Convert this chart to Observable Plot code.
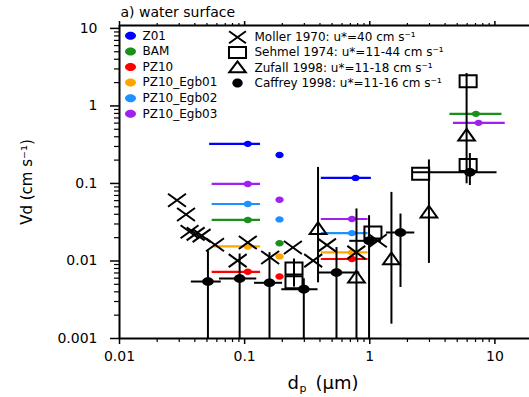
<!DOCTYPE html>
<html>
<head>
<meta charset="utf-8">
<script src="https://cdn.jsdelivr.net/npm/d3@7"></script>
<script src="https://cdn.jsdelivr.net/npm/@observablehq/plot@0.6"></script>
<style>
  html, body { margin: 0; padding: 0; background: #fff; }
  svg { display: block; }
</style>
</head>
<body>
<div id="chart"></div>
<script>
// ---------- axes ----------
const xDomain = [0.01, 18.9];
const yDomain = [0.001, 10.9];
const xMajor = [0.01, 0.1, 1, 10];
const xMajorLabels = ["0.01", "0.1", "1", "10"];
const yMajor = [0.001, 0.01, 0.1, 1, 10];
const yMajorLabels = ["0.001", "0.01", "0.1", "1", "10"];
const minorMult = [2, 3, 4, 5, 6, 7, 8, 9];

// ---------- model results (coloured) ----------
const modelNames  = ["Z01", "BAM", "PZ10", "PZ10_Egb01", "PZ10_Egb02", "PZ10_Egb03"];
const modelColors = ["#0000ff", "#1a8f1a", "#ff0000", "#ffa500", "#1e90ff", "#a020f0"];

const modelRun  = ["Z01","Z01","Z01",
                   "BAM","BAM","BAM",
                   "PZ10","PZ10","PZ10",
                   "PZ10_Egb01","PZ10_Egb01","PZ10_Egb01",
                   "PZ10_Egb02","PZ10_Egb02","PZ10_Egb02",
                   "PZ10_Egb03","PZ10_Egb03","PZ10_Egb03","PZ10_Egb03"];
const modelDp   = [0.106, 0.19, 0.77,  0.106, 0.19, 7.05,  0.106, 0.19, 0.72,  0.106, 0.19, 0.72,  0.106, 0.19, 0.72,  0.106, 0.19, 0.72, 7.4];
const modelDpLo = [0.0525, null, 0.41, 0.055, null, 4.37,  0.055, null, 0.41,  0.057, null, 0.41,  0.055, null, 0.41,  0.055, null, 0.41, 4.66];
const modelDpHi = [0.134, null, 1.03,  0.134, null, 11.4,  0.134, null, 0.97,  0.134, null, 0.97,  0.134, null, 0.97,  0.134, null, 0.97, 12.1];
const modelVd   = [0.324, 0.233, 0.118, 0.0338, 0.0169, 0.79, 0.00725, 0.0063, 0.0106, 0.0154, 0.01145, 0.0129, 0.0543, 0.0344, 0.0229, 0.0986, 0.0617, 0.0348, 0.605];

// ---------- observations (black) ----------
const obsNames = ["Moller 1970: u*=40 cm s\u207B\u00B9",
                  "Sehmel 1974: u*=11-44 cm s\u207B\u00B9",
                  "Zufall 1998: u*=11-18 cm s\u207B\u00B9",
                  "Caffrey 1998: u*=11-16 cm s\u207B\u00B9"];

const mollerDp = [0.0288, 0.034, 0.0363, 0.0406, 0.0453, 0.058, 0.106, 0.088, 0.16, 0.243, 0.353, 0.455, 0.78, 1.16];
const mollerVd = [0.0608, 0.0397, 0.0238, 0.0224, 0.0212, 0.0162, 0.0173, 0.0101, 0.0111, 0.0149, 0.0101, 0.016, 0.0129, 0.0182];

const sehmelDp = [0.248, 0.248, 1.06, 2.55, 6.11, 6.11];
const sehmelVd = [0.008, 0.0053, 0.0233, 0.133, 0.173, 2.08];
const sehmelLo = [0.0046, null, null, null, null, null];
const sehmelHi = [0.0106, null, null, null, null, null];

const zufallDp = [0.386, 0.783, 1.49, 2.97, 5.94];
const zufallVd = [0.0251, 0.00593, 0.0102, 0.0409, 0.401];
const zufallLo = [0.00523, 0.001, 0.00153, 0.0093, 0.099];
const zufallHi = [0.161, 0.0469, 0.0767, 0.201, 2.62];

const caffreyDp   = [0.0509, 0.0912, 0.158, 0.297, 0.542, 0.987, 1.76, 6.31];
const caffreyVd   = [0.00543, 0.00594, 0.00523, 0.00433, 0.00711, 0.0182, 0.0233, 0.139];
const caffreyDpLo = [0.0375, 0.063, 0.12, 0.198, 0.386, 0.692, 1.36, 2.2];
const caffreyDpHi = [0.0651, 0.125, 0.201, 0.386, 0.832, 1.24, 2.29, 10.4];
const caffreyLo   = [0.001, 0.001, 0.001, 0.001, 0.001, 0.001, 0.00455, 0.094];
const caffreyHi   = [0.0135, 0.0123, 0.0128, 0.0059, 0.0149, 0.0384, 0.0403, 0.243];

// ---------- build tables ----------
const models = modelRun.map((run, i) => ({run, dp: modelDp[i], lo: modelDpLo[i], hi: modelDpHi[i], vd: modelVd[i]}));
const moller = mollerDp.map((dp, i) => ({dp, vd: mollerVd[i]}));
const sehmel = sehmelDp.map((dp, i) => ({dp, vd: sehmelVd[i], lo: sehmelLo[i], hi: sehmelHi[i]}));
const zufall = zufallDp.map((dp, i) => ({dp, vd: zufallVd[i], lo: zufallLo[i], hi: zufallHi[i]}));
const caffrey = caffreyDp.map((dp, i) => ({dp, vd: caffreyVd[i], xlo: caffreyDpLo[i], xhi: caffreyDpHi[i], lo: caffreyLo[i], hi: caffreyHi[i]}));

const xMinor = [0.01, 0.1, 1, 10].flatMap(d => minorMult.map(m => d * m)).filter(v => v < xDomain[1]);
const yMinor = [0.001, 0.01, 0.1, 1].flatMap(d => minorMult.map(m => d * m));

// ---------- custom (horizontally stretched) symbols ----------
function ellipseSym(k) {
  return {draw(ctx, size) {
    const ry = Math.sqrt(size / Math.PI), rx = k * ry, c = 0.5523;
    ctx.moveTo(rx, 0);
    ctx.bezierCurveTo(rx, c * ry, c * rx, ry, 0, ry);
    ctx.bezierCurveTo(-c * rx, ry, -rx, c * ry, -rx, 0);
    ctx.bezierCurveTo(-rx, -c * ry, -c * rx, -ry, 0, -ry);
    ctx.bezierCurveTo(c * rx, -ry, rx, -c * ry, rx, 0);
    ctx.closePath();
  }};
}
function crossSym(k) {
  return {draw(ctx, size) {
    const r = Math.sqrt(size / Math.PI), w = k * r;
    ctx.moveTo(-w, -r); ctx.lineTo(w, r);
    ctx.moveTo(-w, r); ctx.lineTo(w, -r);
  }};
}
function squareSym(k) {
  return {draw(ctx, size) {
    const r = Math.sqrt(size / Math.PI), w = k * r;
    ctx.moveTo(-w, -r); ctx.lineTo(w, -r); ctx.lineTo(w, r); ctx.lineTo(-w, r); ctx.closePath();
  }};
}
function triSym(k) {
  return {draw(ctx, size) {
    const r = Math.sqrt(size / Math.PI), w = k * r;
    ctx.moveTo(0, -4 * r / 3); ctx.lineTo(w, 2 * r / 3); ctx.lineTo(-w, 2 * r / 3); ctx.closePath();
  }};
}

const FONT = "DejaVu Sans";

// ---------- legend marks ----------
const legendMarks = [];
modelNames.forEach((name, i) => {
  const dy = 10.3 + i * 15.6;
  legendMarks.push(Plot.dot([name], {frameAnchor: "top-left", dx: 11, dy, r: 4, symbol: ellipseSym(1.37), fill: modelColors[i], stroke: "none"}));
  legendMarks.push(Plot.text([name], {frameAnchor: "top-left", dx: 23, dy, text: d => d, textAnchor: "start", lineAnchor: "middle", fontSize: 12, fill: "black"}));
});
const obsSymbols = [
  {symbol: crossSym(1.4), r: 6, fill: "none", stroke: "black"},
  {symbol: squareSym(1.55), r: 5.5, fill: "none", stroke: "black"},
  {symbol: triSym(1.5), r: 5.5, fill: "none", stroke: "black"},
  {symbol: ellipseSym(1.15), r: 4.5, fill: "black", stroke: "none"}
];
obsNames.forEach((name, i) => {
  const dy = 11.8 + i * 15.2;
  legendMarks.push(Plot.dot([name], {frameAnchor: "top-left", dx: 118, dy: dy + (i === 2 ? 1 : 0), strokeWidth: 2, ...obsSymbols[i]}));
  legendMarks.push(Plot.text([name], {frameAnchor: "top-left", dx: 135, dy, text: d => d, textAnchor: "start", lineAnchor: "middle", fontSize: 12, fill: "black"}));
});

const chart = Plot.plot({
  width: 529,
  height: 397,
  marginLeft: 119,
  marginRight: 0,
  marginTop: 25,
  marginBottom: 59,
  style: {fontFamily: FONT, fontSize: "12px", background: "white", color: "black"},
  x: {type: "log", domain: xDomain},
  y: {type: "log", domain: yDomain},
  color: {domain: modelNames, range: modelColors},
  marks: [
    // axes
    Plot.axisX(xMajor, {anchor: "bottom", tickSize: 6, tickPadding: 7, strokeWidth: 1.5, fontSize: 14, label: null,
                        tickFormat: d => xMajorLabels[xMajor.indexOf(d)]}),
    Plot.axisX(xMinor, {anchor: "bottom", tickSize: 4, strokeWidth: 1.2, fill: "none", label: null}),
    Plot.axisX(xMajor, {anchor: "top", tickSize: 5, strokeWidth: 1.5, fill: "none", label: null}),
    Plot.axisX(xMinor, {anchor: "top", tickSize: 3, strokeWidth: 1.2, fill: "none", label: null}),
    Plot.axisY(yMajor, {anchor: "left", tickSize: 9, tickPadding: 13, strokeWidth: 1.5, fontSize: 14, label: null,
                        tickFormat: d => yMajorLabels[yMajor.indexOf(d)]}),
    Plot.axisY(yMinor, {anchor: "left", tickSize: 5, strokeWidth: 1.2, fill: "none", label: null}),
    Plot.ruleX([xDomain[0]], {strokeWidth: 2}),
    Plot.ruleY([yDomain[0]], {strokeWidth: 2}),
    Plot.ruleY([yDomain[1]], {strokeWidth: 2}),

    // model results
    Plot.ruleY(models.filter(d => d.lo != null), {y: "vd", x1: "lo", x2: "hi", stroke: "run", strokeWidth: 2.2}),
    Plot.dot(models, {x: "dp", y: "vd", fill: "run", stroke: "none", r: 3.2, symbol: ellipseSym(1.3)}),

    // observation error bars
    Plot.ruleX(caffrey, {x: "dp", y1: "lo", y2: "hi", stroke: "black", strokeWidth: 2}),
    Plot.ruleY(caffrey, {y: "vd", x1: "xlo", x2: "xhi", stroke: "black", strokeWidth: 2}),
    Plot.ruleX(zufall, {x: "dp", y1: "lo", y2: "hi", stroke: "black", strokeWidth: 2}),
    Plot.ruleX(sehmel.filter(d => d.lo != null), {x: "dp", y1: "lo", y2: "hi", stroke: "black", strokeWidth: 2}),

    // observation markers
    Plot.dot(moller, {x: "dp", y: "vd", symbol: crossSym(1.38), r: 6.5, fill: "none", stroke: "black", strokeWidth: 2}),
    Plot.dot(sehmel, {x: "dp", y: "vd", symbol: squareSym(1.42), r: 6, fill: "none", stroke: "black", strokeWidth: 2}),
    Plot.dot(zufall, {x: "dp", y: "vd", symbol: triSym(1.42), r: 5.85, fill: "none", stroke: "black", strokeWidth: 2}),
    Plot.dot(caffrey, {x: "dp", y: "vd", symbol: ellipseSym(1.35), r: 4.3, fill: "black", stroke: "none"}),

    // titles / labels
    Plot.text(["a) water surface"], {frameAnchor: "top-left", dx: 1, dy: -8.5, text: d => d, textAnchor: "start", lineAnchor: "bottom", fontSize: 14, fill: "black"}),
    Plot.text(["Vd (cm s\u207B\u00B9)"], {frameAnchor: "left", dx: -92, rotate: -90, text: d => d, textAnchor: "middle", lineAnchor: "middle", fontSize: 15, fill: "black"}),
    Plot.text(["d"], {frameAnchor: "bottom", dx: -37, dy: 50, text: d => d, textAnchor: "start", lineAnchor: "bottom", fontSize: 18, fill: "black"}),
    Plot.text(["p"], {frameAnchor: "bottom", dx: -25, dy: 53, text: d => d, textAnchor: "start", lineAnchor: "bottom", fontSize: 11, fill: "black"}),
    Plot.text(["(\u03BCm)"], {frameAnchor: "bottom", dx: -9, dy: 50, text: d => d, textAnchor: "start", lineAnchor: "bottom", fontSize: 18, fill: "black"}),

    ...legendMarks
  ]
});

document.getElementById("chart").appendChild(chart);
</script>
</body>
</html>
